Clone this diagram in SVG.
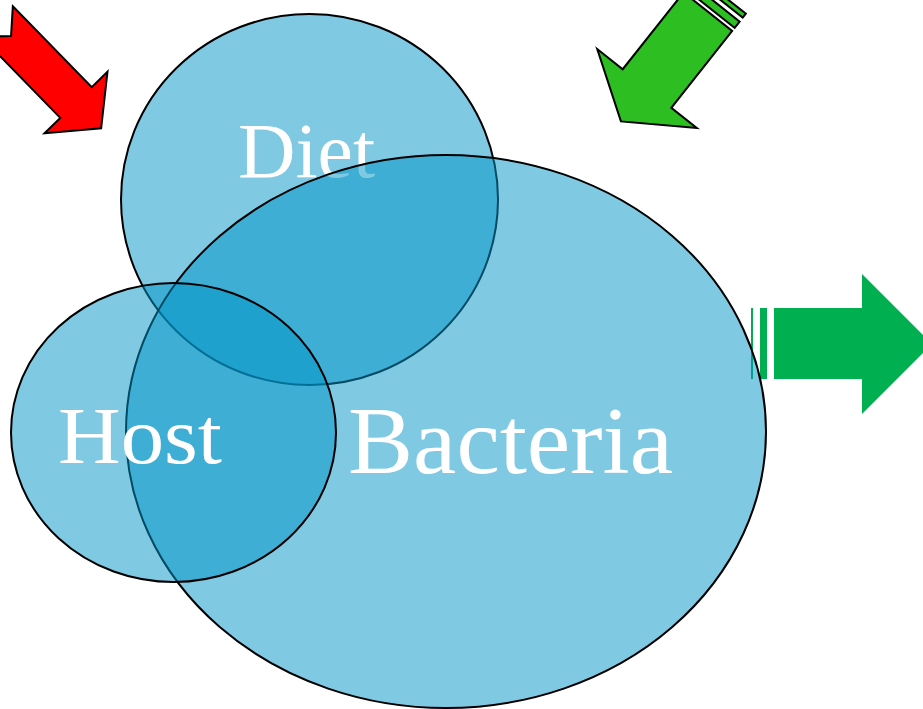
<svg xmlns="http://www.w3.org/2000/svg" width="923" height="709" viewBox="0 0 923 709">
  <style>
    .blob { fill: #0093C7; fill-opacity: 0.5; stroke: #000; stroke-width: 2; }
    .label { font-family: "Liberation Serif", "DejaVu Serif", serif; fill: #fff; }
    .red { fill: #FF0000; stroke: #000; stroke-width: 2; stroke-linejoin: miter; }
    .green { fill: #2DBE22; stroke: #000; stroke-width: 2; stroke-linejoin: miter; }
    .green2 { fill: #00AF50; stroke: none; }
  </style>
  <rect width="923" height="709" fill="#fff"/>
  <g id="arrows">
    <g id="arrow-red" transform="translate(76,102.5) rotate(45.7)">
      <polygon class="red" points="-113,-22 0,-22 0,-44 36,0 0,44 0,22 -113,22 -93,0"/>
    </g>
    <g id="arrow-green-top" transform="translate(647,88.5) rotate(128.4)">
      <polygon class="green" points="-98,-31 0,-31 0,-63.5 42,0 0,63.5 0,31 -98,31"/>
      <rect class="green" x="-110" y="-31" width="8" height="62"/>
      <rect class="green" x="-120" y="-31" width="5" height="62"/>
    </g>
    <g id="arrow-green-right">
      <rect class="green2" x="751" y="308" width="2" height="71"/>
      <rect class="green2" x="760" y="308" width="7" height="71"/>
      <polygon class="green2" points="774,308 862,308 862,274 932,344 862,414 862,379 774,379"/>
    </g>
  </g>
  <g id="node-diet">
    <ellipse class="blob" cx="309.5" cy="199.5" rx="188.5" ry="185.5"/>
    <text class="label" x="238" y="177" font-size="78" textLength="137" lengthAdjust="spacingAndGlyphs">Diet</text>
  </g>
  <g id="node-bacteria">
    <ellipse class="blob" cx="446" cy="431.5" rx="320" ry="276.5"/>
  </g>
  <g id="node-host">
    <ellipse class="blob" cx="173.5" cy="432.5" rx="162.5" ry="149.5"/>
    <text class="label" x="58" y="463" font-size="80" textLength="164" lengthAdjust="spacingAndGlyphs">Host</text>
  </g>
  <g id="node-bacteria-label">
    <text class="label" x="348" y="473" font-size="95" textLength="325" lengthAdjust="spacingAndGlyphs">Bacteria</text>
  </g>
</svg>
